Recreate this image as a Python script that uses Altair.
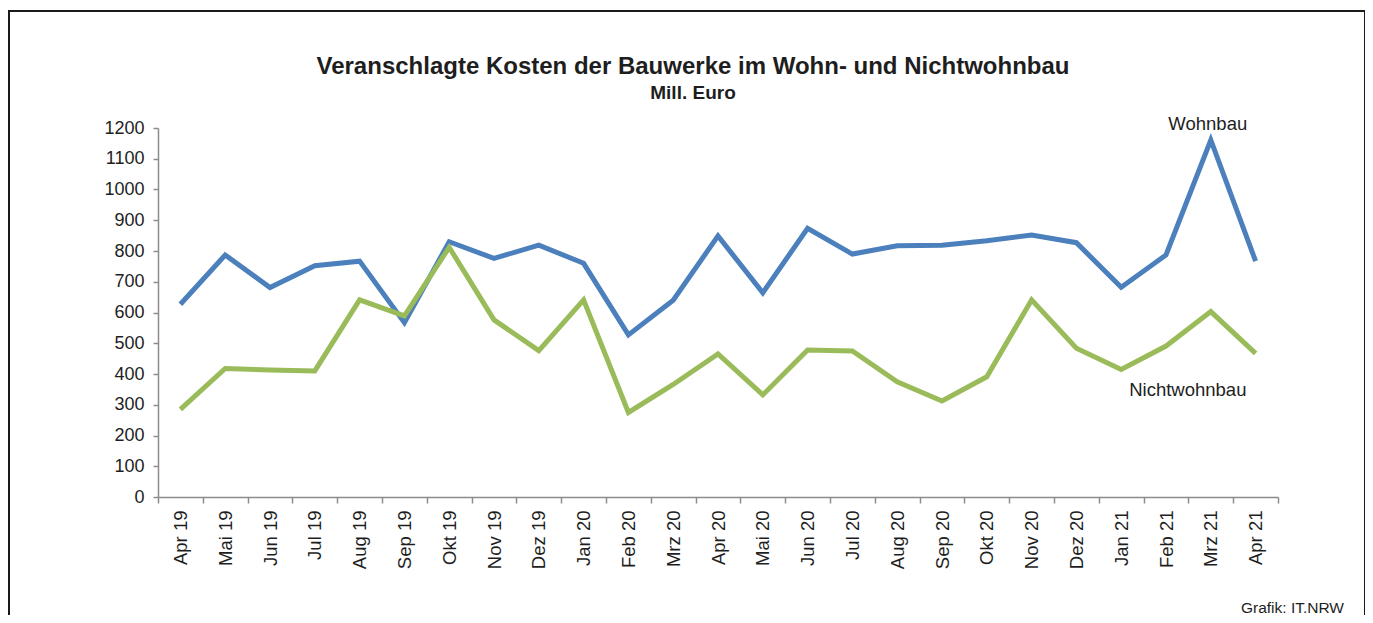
import altair as alt
import pandas as pd

months = ["Apr 19", "Mai 19", "Jun 19", "Jul 19", "Aug 19", "Sep 19", "Okt 19", "Nov 19",
          "Dez 19", "Jan 20", "Feb 20", "Mrz 20", "Apr 20", "Mai 20", "Jun 20", "Jul 20",
          "Aug 20", "Sep 20", "Okt 20", "Nov 20", "Dez 20", "Jan 21", "Feb 21", "Mrz 21", "Apr 21"]
wohnbau = [627, 787, 681, 752, 767, 567, 830, 776, 819, 760, 527, 640, 849, 664, 874, 790,
           817, 819, 833, 852, 827, 682, 787, 1161, 767]
nichtwohnbau = [285, 418, 413, 410, 641, 589, 812, 576, 476, 641, 275, 366, 465, 332, 478, 475,
                375, 312, 391, 641, 484, 415, 491, 603, 467]
series_names = ["Wohnbau", "Nichtwohnbau"]
series_colors = ["#4C80BD", "#9ABB59"]
y_ticks = list(range(0, 1201, 100))

title_text = "Veranschlagte Kosten der Bauwerke im Wohn- und Nichtwohnbau"
subtitle_text = "Mill. Euro"
source_text = "Grafik: IT.NRW"

# series name labels, anchored in data space
label_month = ["Mrz 21", "Mrz 21"]
label_value = [1192, 328]

rows = []
for m, w, n in zip(months, wohnbau, nichtwohnbau):
    rows.append({"Monat": m, "Serie": "Wohnbau", "Wert": w})
    rows.append({"Monat": m, "Serie": "Nichtwohnbau", "Wert": n})
df = pd.DataFrame(rows)

FONT = "Liberation Sans"
INK = "#1E1E1E"
AXC = "#8C8C8C"
W, H = 1120, 369

x_enc = alt.X("Monat:N", sort=months, title=None,
              scale=alt.Scale(paddingInner=0, paddingOuter=0),
              axis=alt.Axis(labelAngle=-90, tickBand="extent", labelPadding=7,
                            tickSize=6, domainColor=AXC, tickColor=AXC,
                            domainWidth=1.5, tickWidth=1.5,
                            labelFontSize=18.5, labelFont=FONT, labelColor=INK))
y_enc = alt.Y("Wert:Q", title=None,
              scale=alt.Scale(domain=[0, 1200], nice=False),
              axis=alt.Axis(values=y_ticks, format="d", grid=False, tickSize=5,
                            labelPadding=9, labelOverlap=False,
                            domainColor=AXC, tickColor=AXC,
                            domainWidth=1.5, tickWidth=1.5,
                            labelFontSize=18, labelFont=FONT, labelColor=INK))

lines = alt.Chart(df).mark_line(strokeWidth=5).encode(
    x=x_enc,
    y=y_enc,
    color=alt.Color("Serie:N", scale=alt.Scale(domain=series_names, range=series_colors),
                    legend=None),
    detail="Serie:N",
)

ann_df = pd.DataFrame({"Monat": label_month, "Wert": label_value, "Text": series_names})


def series_label(name, dx):
    return alt.Chart(ann_df).transform_filter(alt.datum.Text == name).mark_text(
        font=FONT, fontSize=18.5, color=INK, baseline="alphabetic", dx=dx
    ).encode(
        x=x_enc,
        y=y_enc,
        text="Text:N",
    )


lab_w = series_label("Wohnbau", -3)
lab_n = series_label("Nichtwohnbau", -23)

one = alt.Data(values=[{}])
frame = alt.Chart(one).mark_rect(fill=None, stroke="#1A1A1A", strokeWidth=2).encode(
    x=alt.value(-149), x2=alt.value(1207), y=alt.value(-117), y2=alt.value(540))

title = alt.Chart(one).mark_text(font=FONT, fontSize=24, fontWeight="bold", color=INK,
                                 baseline="alphabetic").encode(
    x=alt.value(535), y=alt.value(-54), text=alt.value(title_text))
subtitle = alt.Chart(one).mark_text(font=FONT, fontSize=19, fontWeight="bold", color=INK,
                                    baseline="alphabetic").encode(
    x=alt.value(535), y=alt.value(-29), text=alt.value(subtitle_text))
source = alt.Chart(one).mark_text(font=FONT, fontSize=15.5, color=INK, align="right",
                                  baseline="alphabetic").encode(
    x=alt.value(1186), y=alt.value(485), text=alt.value(source_text))

chart = alt.layer(frame, lines, lab_w, lab_n, title, subtitle, source).properties(
    width=W, height=H,
    autosize=alt.AutoSizeParams(type="none"),
    padding={"left": 150, "top": 120, "right": 87, "bottom": 118},
    background="white",
).configure_view(strokeWidth=0, strokeOpacity=0)

chart.save("out.html", embed_options={"renderer": "svg", "actions": False})
